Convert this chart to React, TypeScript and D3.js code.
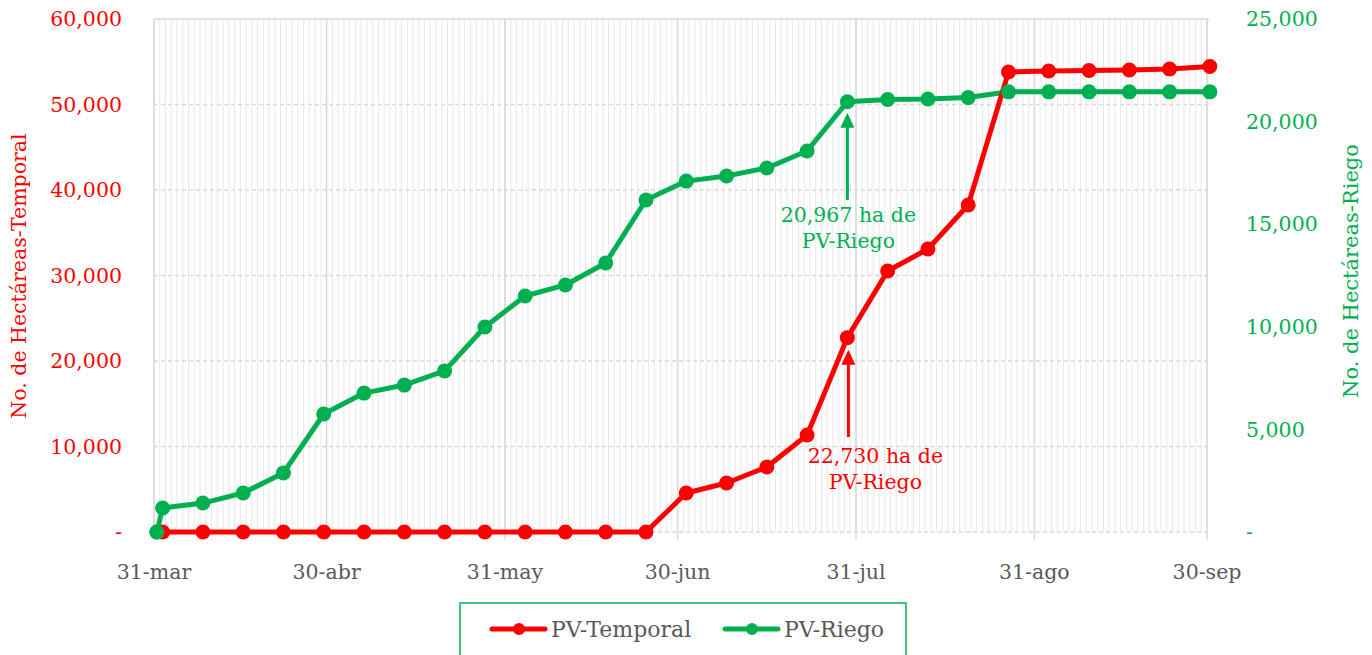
import React from "react";
import * as d3 from "d3";

const startDate = "2023-03-31";
const endDate = "2023-09-30";
const monthTicks = ["2023-03-31", "2023-04-30", "2023-05-31", "2023-06-30", "2023-07-31", "2023-08-31", "2023-09-30"];
const monthLabels = ["31-mar", "30-abr", "31-may", "30-jun", "31-jul", "31-ago", "30-sep"];

const weekDates = [
  "2023-04-01", "2023-04-08", "2023-04-15", "2023-04-22", "2023-04-29",
  "2023-05-06", "2023-05-13", "2023-05-20", "2023-05-27",
  "2023-06-03", "2023-06-10", "2023-06-17", "2023-06-24",
  "2023-07-01", "2023-07-08", "2023-07-15", "2023-07-22", "2023-07-29",
  "2023-08-05", "2023-08-12", "2023-08-19", "2023-08-26",
  "2023-09-02", "2023-09-09", "2023-09-16", "2023-09-23", "2023-09-30",
];
const temporalValues = [
  0, 0, 0, 0, 0, 0, 0, 0, 0, 0, 0, 0, 0,
  4560, 5730, 7600, 11350, 22730, 30530, 33100, 38250,
  53800, 53920, 53980, 54040, 54150, 54440,
];
const riegoDates = ["2023-03-31", ...weekDates];
const riegoValues = [
  0, 1170, 1410, 1900, 2880, 5750, 6770, 7160, 7850, 9990, 11500, 12040, 13110,
  16180, 17100, 17350, 17740, 18570, 20967, 21080, 21100, 21170,
  21450, 21450, 21450, 21450, 21450, 21450,
];
const leftTicks = [0, 10000, 20000, 30000, 40000, 50000, 60000];
const rightTicks = [0, 5000, 10000, 15000, 20000, 25000];

const annotRiegoDate = "2023-07-29";
const annotRiegoValue = 20967;
const annotTemporalValue = 22730;

const RED = "#FF0000";
const GREEN = "#00B050";
const GRAY = "#595959";
const FONT = "'DejaVu Serif', serif";

const parse = (s: string) => {
  const [y, m, d] = s.split("-").map(Number);
  return new Date(Date.UTC(y, m - 1, d));
};
const fmt = (v: number) => (v === 0 ? "-" : d3.format(",")(v));

export default function App() {
  const W = 1372, H = 655;
  const left = 154, right = 1207, top = 19, bottom = 532;
  const x = d3.scaleUtc().domain([parse(startDate), parse(endDate)]).range([left, right]);
  const half = (x(parse("2023-04-01")) - x(parse(startDate))) / 2;
  const px = (s: string) => x(parse(s)) + half;
  const yL = d3.scaleLinear().domain([0, 60000]).range([bottom, top]);
  const yR = d3.scaleLinear().domain([0, 25000]).range([bottom, top]);

  const days = d3.utcDay.range(parse(startDate), d3.utcDay.offset(parse(endDate), 1));

  const tempPts = weekDates.map((d, i) => [px(d), yL(temporalValues[i])] as [number, number]);
  const riegoPts = riegoDates.map((d, i) => [px(d), yR(riegoValues[i])] as [number, number]);
  const line = d3.line();

  const ax = px(annotRiegoDate);
  const gTip = yR(annotRiegoValue) + 11;
  const rTip = yL(annotTemporalValue) + 12;

  return (
    <div style={{ position: "absolute", left: 0, top: 0 }}>
      <svg width={W} height={H} style={{ display: "block", fontFamily: FONT }}>
        <rect width={W} height={H} fill="#fff" />
        {/* minor daily grid */}
        {days.map((d, i) => (
          <line key={"d" + i} x1={x(d)} x2={x(d)} y1={top} y2={bottom} stroke="#E8E8E8" strokeWidth={1} />
        ))}
        {/* horizontal grid */}
        {leftTicks.map((t) => (
          <line key={"h" + t} x1={left} x2={right + 2} y1={yL(t)} y2={yL(t)} stroke="#D9D9D9" strokeWidth={1.3}
            strokeDasharray={t === 60000 ? undefined : "4,3"} />
        ))}
        {/* major month grid */}
        {monthTicks.map((m) => (
          <line key={"m" + m} x1={x(parse(m))} x2={x(parse(m))} y1={top} y2={bottom + 8} stroke="#D9D9D9" strokeWidth={1.5} />
        ))}
        {/* axis labels */}
        {leftTicks.map((t) => (
          <text key={"l" + t} x={122} y={yL(t)} dy="0.35em" textAnchor="end" fill={RED} fontSize={20.5}>{fmt(t)}</text>
        ))}
        {rightTicks.map((t) => (
          <text key={"r" + t} x={1246} y={yR(t)} dy="0.35em" textAnchor="start" fill={GREEN} fontSize={20.5}>{fmt(t)}</text>
        ))}
        {monthTicks.map((m, i) => (
          <text key={"x" + m} x={x(parse(m))} y={572} dy="0.35em" textAnchor="middle" fill={GRAY} fontSize={20.5}>{monthLabels[i]}</text>
        ))}
        <text transform="translate(26,276) rotate(-90)" textAnchor="middle" fill={RED} fontSize={20.5}>No. de Hectáreas-Temporal</text>
        <text transform="translate(1358,271) rotate(-90)" textAnchor="middle" fill={GREEN} fontSize={21}>No. de Hectáreas-Riego</text>

        {/* series */}
        <path d={line(riegoPts) || ""} fill="none" stroke={GREEN} strokeWidth={5} strokeLinejoin="round" />
        <path d={line(tempPts) || ""} fill="none" stroke={RED} strokeWidth={5} strokeLinejoin="round" />
        {riegoPts.map((p, i) => (
          <circle key={"gc" + i} cx={p[0]} cy={p[1]} r={7.5} fill={GREEN} />
        ))}
        {tempPts.map((p, i) => (
          <circle key={"rc" + i} cx={p[0]} cy={p[1]} r={7.5} fill={RED} />
        ))}
        {riegoPts.slice(0, 1).map((p, i) => (
          <circle key={"gc0" + i} cx={p[0]} cy={p[1]} r={7.5} fill={GREEN} />
        ))}

        {/* annotations */}
        <line x1={ax} x2={ax} y1={200} y2={gTip + 10} stroke={GREEN} strokeWidth={3} />
        <path d={`M${ax},${gTip} L${ax - 7},${gTip + 15} L${ax + 7},${gTip + 15} Z`} fill={GREEN} />
        <text x={ax + 1} y={215} dy="0.35em" textAnchor="middle" fill={GREEN} fontSize={20.5}>20,967 ha de</text>
        <text x={ax + 1} y={241} dy="0.35em" textAnchor="middle" fill={GREEN} fontSize={20.5}>PV-Riego</text>

        <line x1={ax + 1} x2={ax + 1} y1={437} y2={rTip + 10} stroke={RED} strokeWidth={3} />
        <path d={`M${ax + 1},${rTip} L${ax - 6},${rTip + 15} L${ax + 8},${rTip + 15} Z`} fill={RED} />
        <text x={ax + 28} y={456} dy="0.35em" textAnchor="middle" fill={RED} fontSize={20.5}>22,730 ha de</text>
        <text x={ax + 28} y={482} dy="0.35em" textAnchor="middle" fill={RED} fontSize={20.5}>PV-Riego</text>

        {/* legend */}
        <rect x={460} y={603} width={446} height={60} fill="#fff" stroke={GREEN} strokeWidth={1.5} />
        <line x1={492} x2={545} y1={629} y2={629} stroke={RED} strokeWidth={5} strokeLinecap="round" />
        <circle cx={519} cy={629} r={6} fill={RED} />
        <text x={551} y={629} dy="0.35em" fill={GRAY} fontSize={22}>PV-Temporal</text>
        <line x1={725} x2={778} y1={629} y2={629} stroke={GREEN} strokeWidth={5} strokeLinecap="round" />
        <circle cx={752} cy={629} r={6} fill={GREEN} />
        <text x={784} y={629} dy="0.35em" fill={GRAY} fontSize={22}>PV-Riego</text>
      </svg>
    </div>
  );
}
